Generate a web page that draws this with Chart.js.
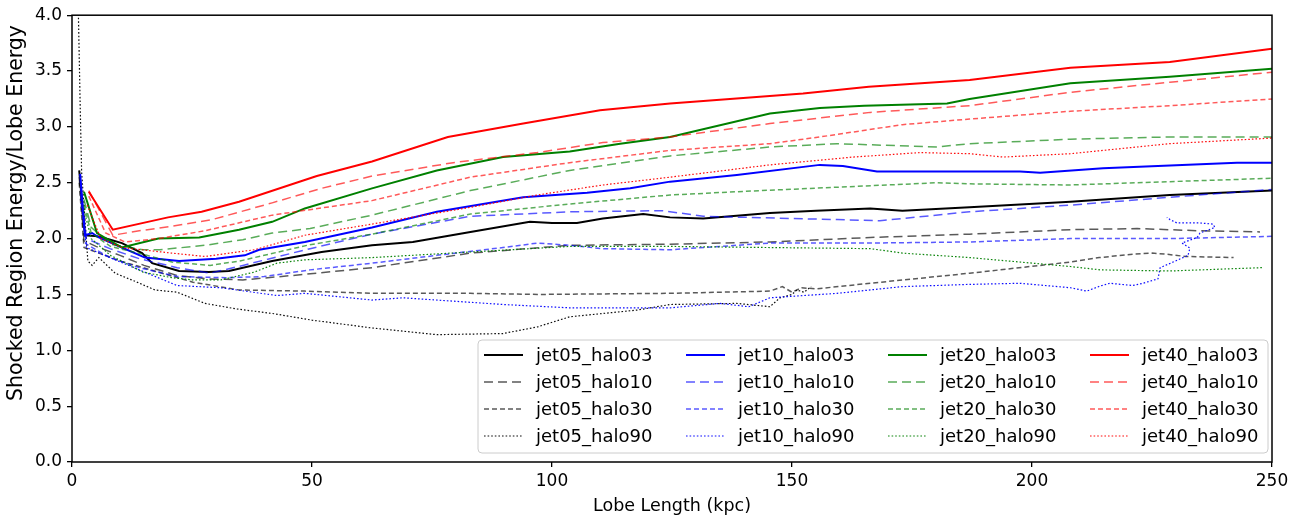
<!DOCTYPE html>
<html>
<head>
<meta charset="UTF-8">
<title>Shocked region energy</title>
<style>
body{
	margin: 0;
	background-color: #ffffff;
}
#wrap{
	width: 1314px;
	height: 517px;
}
</style>
</head>
<body>
<div id="wrap"><canvas id="myChart"></canvas></div>
<script src="https://cdn.jsdelivr.net/npm/chart.js@4.4.0/dist/chart.umd.min.js"></script>
<script>
// runs: jet power x halo density, [lobe length kpc, shocked/lobe energy]
const jets = ['jet05', 'jet10', 'jet20', 'jet40'];
const halos = ['halo03', 'halo10', 'halo30', 'halo90'];
const xTicks = [0, 50, 100, 150, 200, 250];
const yTicks = [0, 0.5, 1.0, 1.5, 2.0, 2.5, 3.0, 3.5, 4.0];
const yTitle = 'Shocked Region Energy/Lobe Energy';
const xTitle = 'Lobe Length (kpc)';

const jet05_halo03 = [[1.5,2.61],[2.7,2.03],[5.5,2.02],[8,1.99],[10.4,1.96],[14.6,1.87],[16.7,1.78],[22.3,1.71],[28.5,1.70],[32.7,1.71],[41.7,1.80],[52,1.88],[62.5,1.94],[71,1.97],[83,2.06],[95.4,2.15],[100,2.14],[105.2,2.14],[110.6,2.18],[119,2.22],[124.6,2.19],[131.5,2.18],[145.4,2.23],[155,2.25],[166.3,2.27],[173,2.25],[187,2.28],[208,2.33],[228.7,2.39],[250,2.43]];
const jet05_halo10 = [[1.5,2.55],[2.5,1.98],[5,1.93],[10,1.85],[15,1.76],[21.9,1.67],[28,1.64],[35.6,1.63],[46,1.67],[62.5,1.74],[83,1.87],[103.7,1.94],[124.6,1.95],[145.4,1.97],[166.3,2.01],[187,2.04],[208,2.08],[221.9,2.09],[235,2.07],[247.5,2.06]];
const jet05_halo30 = [[1.5,2.5],[2.5,1.92],[5,1.88],[10,1.80],[14.8,1.74],[25.2,1.61],[34.8,1.54],[48.5,1.53],[62.5,1.51],[83,1.51],[97,1.50],[124.6,1.51],[145.4,1.53],[148,1.57],[150,1.52],[152,1.56],[155,1.55],[166.3,1.60],[187,1.69],[208,1.79],[214,1.83],[221,1.86],[225,1.87],[228,1.86],[232,1.84],[242,1.83]];
const jet05_halo90 = [[1.2,4.3],[1.7,3.2],[2.0,2.6],[3.3,1.8],[4.2,1.76],[5.6,1.83],[9,1.69],[13,1.62],[17.3,1.54],[21.9,1.52],[27.7,1.42],[34.3,1.37],[41.7,1.33],[50,1.27],[62.5,1.20],[76,1.14],[89.8,1.15],[97,1.21],[103.7,1.30],[117.7,1.36],[124.6,1.41],[138.5,1.42],[145.4,1.39],[147.5,1.47],[150,1.50],[151,1.54],[152.5,1.52],[154,1.57]];

const jet10_halo03 = [[1.7,2.58],[2.7,2.03],[4.2,2.05],[5.6,2.01],[10.4,1.92],[15.2,1.83],[22.3,1.80],[30,1.82],[36,1.85],[39,1.90],[48.5,1.97],[62.5,2.10],[76,2.24],[94,2.37],[107.3,2.41],[116.3,2.45],[124.6,2.51],[138.5,2.57],[155.8,2.66],[160.6,2.65],[167.7,2.60],[187,2.60],[197.5,2.60],[201.7,2.59],[214.8,2.63],[242.7,2.68],[250,2.68]];
const jet10_halo10 = [[1.8,2.45],[3,2.0],[7.9,1.91],[14,1.82],[21.9,1.74],[28.75,1.69],[35.6,1.76],[49.6,1.91],[62.5,2.04],[83,2.20],[103.7,2.24],[123,2.25],[131.5,2.20],[159.4,2.17],[168.3,2.16],[187,2.24],[208,2.30],[228.7,2.37],[250,2.44]];
const jet10_halo30 = [[1.8,2.4],[3,1.95],[7.9,1.83],[14,1.74],[21.9,1.66],[32,1.65],[40,1.66],[49.6,1.72],[62.5,1.78],[76,1.85],[89.8,1.92],[97,1.96],[103.7,1.94],[110.6,1.91],[124.6,1.90],[145.4,1.96],[166.3,1.96],[187,1.97],[208,2.00],[228.7,2.00],[250,2.02]];
const jet10_halo90 = [[1.8,2.35],[3,1.92],[7.9,1.83],[14,1.72],[21.9,1.58],[31,1.56],[42.7,1.49],[48.5,1.51],[62.5,1.45],[69,1.47],[89.8,1.41],[103.7,1.38],[124.6,1.38],[135,1.42],[141,1.39],[145.4,1.47],[159.4,1.51],[173,1.57],[187,1.59],[197.5,1.60],[208,1.56],[211.4,1.53],[214.2,1.575],[216.2,1.60],[221,1.58],[223.1,1.60],[226.25,1.64],[226.7,1.74],[229.4,1.79],[232.5,1.85],[232.9,1.915],[231.25,1.96],[234.4,2.01],[235,2.05],[238.1,2.10],[237.7,2.13],[235,2.14],[230.2,2.14],[228.75,2.17],[228.1,2.19]];

const jet20_halo03 = [[2.5,2.42],[5.2,2.05],[10.4,1.92],[18,2.0],[26.5,2.01],[34.8,2.08],[41.7,2.15],[48.5,2.27],[62.5,2.45],[76,2.61],[89.8,2.73],[103.7,2.78],[114.2,2.85],[124.6,2.91],[145.4,3.12],[155.8,3.17],[165,3.19],[182.3,3.21],[187,3.25],[208,3.39],[228.7,3.45],[250,3.52]];
const jet20_halo10 = [[2.5,2.35],[4,2.1],[8,1.95],[14.8,1.90],[18.3,1.90],[27.7,1.94],[35.6,1.99],[41.7,2.05],[49.6,2.09],[62.5,2.21],[83,2.43],[103.7,2.61],[124.6,2.74],[145.4,2.82],[159.4,2.85],[180.2,2.82],[187,2.85],[208,2.89],[228.7,2.91],[250,2.91]];
const jet20_halo30 = [[2.5,2.3],[4,2.05],[8,1.93],[14.8,1.86],[20.8,1.79],[28.75,1.76],[35,1.80],[49,1.94],[62.5,2.04],[83,2.22],[103.7,2.31],[124.6,2.39],[138.5,2.42],[159.4,2.46],[180.2,2.50],[187,2.49],[208,2.48],[228.7,2.51],[250,2.54]];
const jet20_halo90 = [[2.5,2.25],[4,2.0],[8,1.85],[14.8,1.70],[20.8,1.65],[25.2,1.63],[31,1.63],[38,1.70],[42.7,1.78],[48.5,1.81],[62.5,1.83],[83,1.88],[103.7,1.93],[124.6,1.93],[145.4,1.92],[166.3,1.91],[173,1.87],[187,1.83],[208,1.75],[214.2,1.72],[228.7,1.71],[248,1.74]];

const jet40_halo03 = [[3.5,2.42],[8.5,2.08],[20,2.19],[27,2.24],[34.8,2.33],[51,2.56],[62.5,2.69],[78.3,2.91],[94,3.03],[110,3.15],[124.6,3.21],[152.3,3.30],[166,3.36],[187,3.42],[208,3.53],[228.7,3.58],[250,3.70]];
const jet40_halo10 = [[3.5,2.43],[8.5,2.03],[14,2.07],[20.8,2.11],[29.2,2.17],[41.7,2.32],[52,2.45],[62.5,2.56],[79.4,2.68],[96.9,2.77],[110.6,2.86],[124.6,2.91],[145.4,3.03],[166.3,3.13],[187,3.19],[208,3.31],[228.7,3.40],[250,3.49]];
const jet40_halo30 = [[3.5,2.38],[7,2.05],[11,1.97],[18,2.0],[27.7,2.07],[41.7,2.21],[62.5,2.34],[83,2.55],[103.7,2.68],[124.6,2.79],[145.4,2.85],[155.8,2.91],[173,3.02],[187,3.07],[208,3.14],[228.7,3.19],[250,3.25]];
const jet40_halo90 = [[3.2,2.3],[6,2.0],[10.4,1.92],[20.8,1.87],[27.7,1.84],[38,1.90],[48.5,2.03],[62.5,2.13],[83,2.28],[96.9,2.39],[110.6,2.48],[124.6,2.55],[145.4,2.66],[162.7,2.73],[176.7,2.77],[187,2.76],[194,2.73],[208,2.76],[228.7,2.85],[250,2.90]];

const runs = {
	jet05_halo03, jet05_halo10, jet05_halo30, jet05_halo90,
	jet10_halo03, jet10_halo10, jet10_halo30, jet10_halo90,
	jet20_halo03, jet20_halo10, jet20_halo30, jet20_halo90,
	jet40_halo03, jet40_halo10, jet40_halo30, jet40_halo90
};

// colour per jet, line style per halo
const jetRgb = { jet05: '0,0,0', jet10: '0,0,255', jet20: '0,128,0', jet40: '255,0,0' };
const haloStyle = {
	halo03: { width: 2, dash: [], alpha: 1 },
	halo10: { width: 1.5, dash: [9, 5], alpha: 0.65 },
	halo30: { width: 1.5, dash: [5, 3], alpha: 0.65 },
	halo90: { width: 1.2, dash: [1.6, 2], alpha: 0.95 }
};

let datasets = [];
jets.forEach(function(jet){
	halos.forEach(function(halo){
		const name = jet + '_' + halo;
		const st = haloStyle[halo];
		datasets.push({
			label: name,
			data: runs[name].map(p => ({x: p[0], y: p[1]})),
			borderColor: 'rgba(' + jetRgb[jet] + ',' + st.alpha + ')',
			borderWidth: st.width,
			borderDash: st.dash,
			pointRadius: 0,
			tension: 0,
			fill: false
		});
	});
});
// first dataset is painted last, so reverse to keep jet40 on top
datasets.reverse();

const FONT = 'DejaVu Sans';

// box round the plot area + rotated y title
const frame = {
	id: 'frame',
	afterDatasetsDraw(chart){
		const a = chart.chartArea, ctx = chart.ctx;
		ctx.save();
		ctx.strokeStyle = '#000';
		ctx.lineWidth = 1.5;
		ctx.strokeRect(a.left, a.top, a.right - a.left, a.bottom - a.top);
		ctx.translate(17, 213);
		ctx.rotate(-Math.PI / 2);
		ctx.font = '20.5px "' + FONT + '"';
		ctx.fillStyle = '#000';
		ctx.textAlign = 'center';
		ctx.textBaseline = 'middle';
		ctx.fillText(yTitle, 0, 0);
		ctx.restore();
	}
};

// 4x4 legend in the lower right corner, one column per jet
const legendBox = {
	id: 'legendBox',
	afterDraw(chart){
		const a = chart.chartArea, ctx = chart.ctx;
		const w = 790, h = 113;
		const x0 = a.right - 794, y0 = a.bottom - 122;
		ctx.save();
		ctx.beginPath();
		ctx.roundRect(x0, y0, w, h, 4);
		ctx.fillStyle = 'rgba(255,255,255,0.8)';
		ctx.fill();
		ctx.strokeStyle = '#cccccc';
		ctx.lineWidth = 1;
		ctx.stroke();
		ctx.font = '18px "' + FONT + '"';
		ctx.textBaseline = 'middle';
		ctx.textAlign = 'left';
		jets.forEach(function(jet, i){
			halos.forEach(function(halo, j){
				const st = haloStyle[halo];
				const lx = x0 + 6 + i * 202;
				const ly = y0 + 15 + j * 27;
				ctx.beginPath();
				ctx.setLineDash(st.dash);
				ctx.strokeStyle = 'rgba(' + jetRgb[jet] + ',' + st.alpha + ')';
				ctx.lineWidth = st.width;
				ctx.moveTo(lx, ly);
				ctx.lineTo(lx + 39, ly);
				ctx.stroke();
				ctx.setLineDash([]);
				ctx.fillStyle = '#000';
				ctx.fillText(jet + '_' + halo, lx + 52, ly + 1);
			});
		});
		ctx.restore();
	}
};

const ctx = document.getElementById('myChart').getContext('2d');
const chart = new Chart(ctx, {
	type: 'line',
	data: { datasets: datasets },
	options: {
		responsive: true,
		maintainAspectRatio: false,
		animation: false,
		devicePixelRatio: 1,
		layout: { padding: { left: 0, top: 15, right: 42, bottom: 0 } },
		plugins: { legend: { display: false }, tooltip: { enabled: false } },
		scales: {
			x: {
				type: 'linear',
				min: 0, max: 250,
				afterFit(scale){ scale.height = 55; },
				afterBuildTicks(scale){ scale.ticks = xTicks.map(v => ({value: v})); },
				grid: { drawOnChartArea: false, drawTicks: true, tickLength: 5, color: '#000', lineWidth: 1.3 },
				border: { display: false },
				ticks: { color: '#000', padding: 4, maxRotation: 0, font: { family: FONT, size: 17 } },
				title: { display: true, text: xTitle, color: '#000', padding: { top: 0, bottom: 0 }, font: { family: FONT, size: 17.5 } }
			},
			y: {
				type: 'linear',
				min: 0, max: 4,
				afterFit(scale){ scale.width = 72; },
				afterBuildTicks(scale){ scale.ticks = yTicks.map(v => ({value: v})); },
				grid: { drawOnChartArea: false, drawTicks: true, tickLength: 5, color: '#000', lineWidth: 1.3 },
				border: { display: false },
				ticks: { color: '#000', padding: 5, callback: v => v.toFixed(1), font: { family: FONT, size: 17 } }
			}
		}
	},
	plugins: [frame, legendBox]
});
</script>
</body>
</html>
